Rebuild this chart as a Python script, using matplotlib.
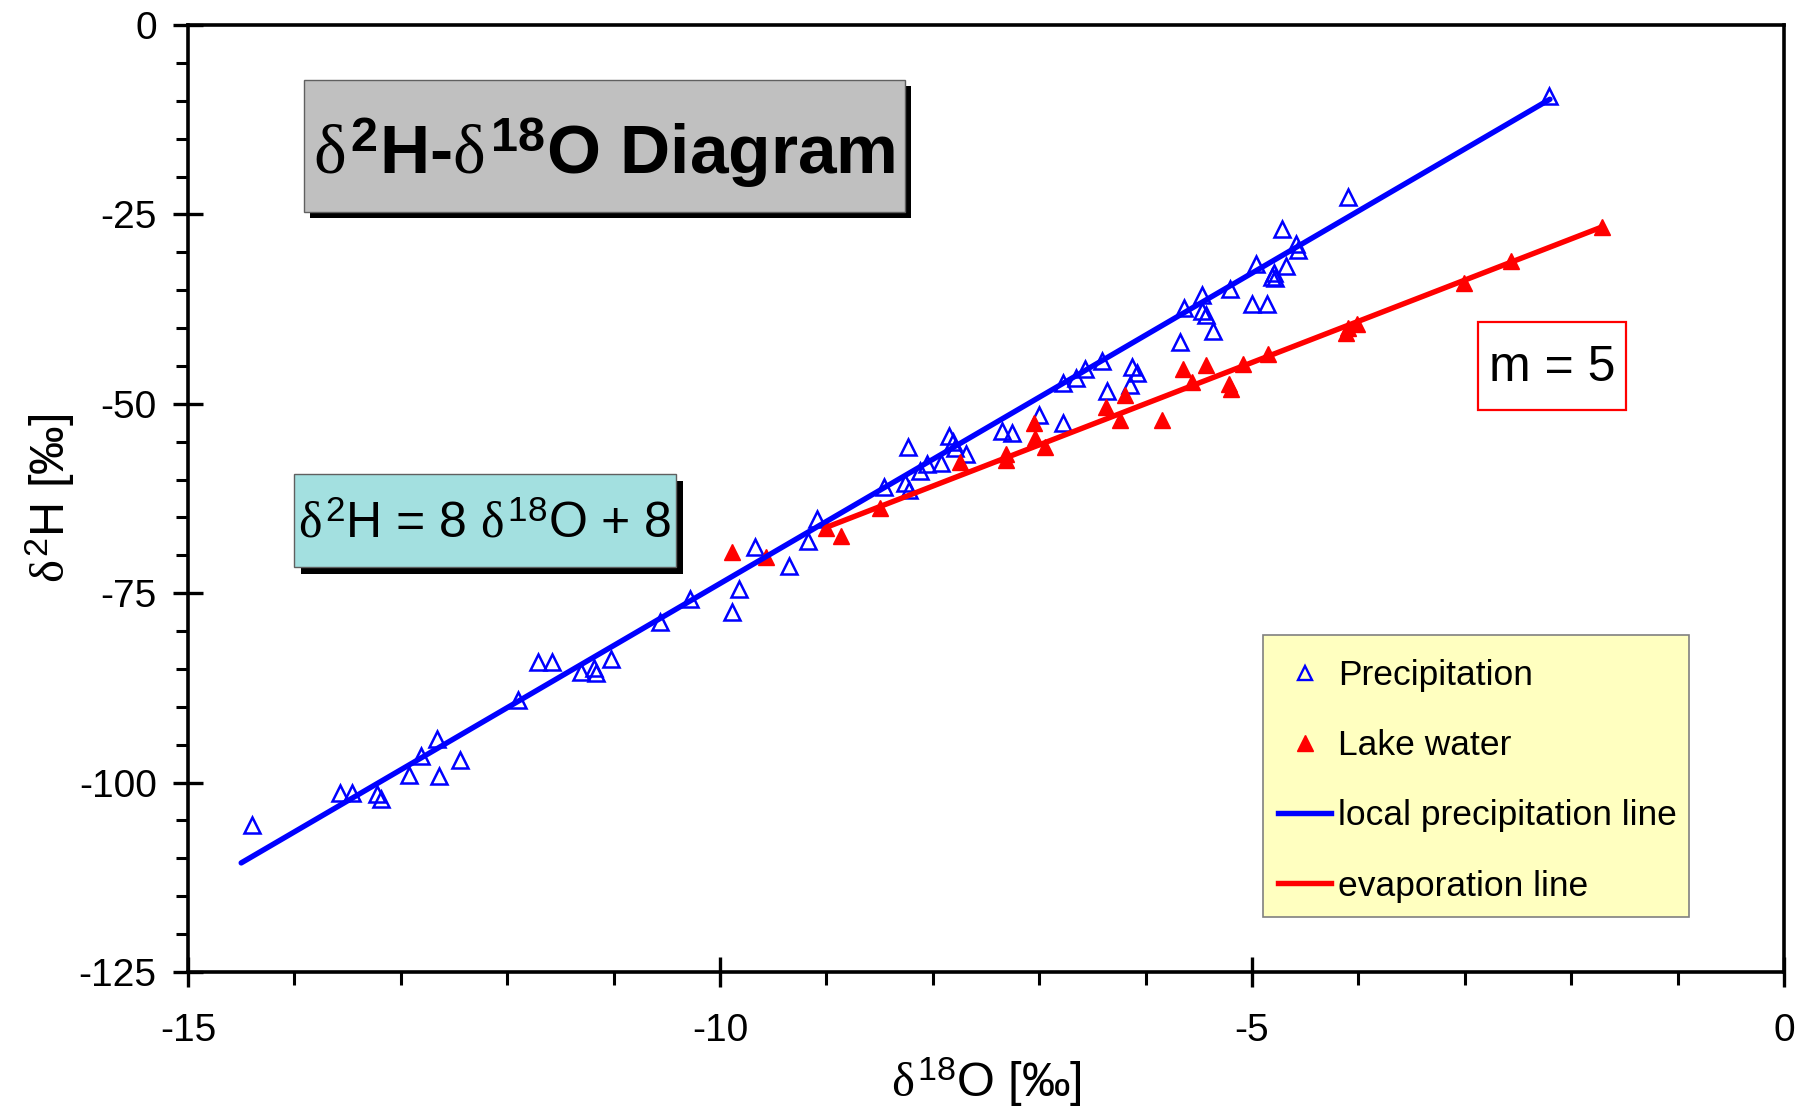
import matplotlib
matplotlib.use('Agg')
import matplotlib.pyplot as plt
from matplotlib.patches import Rectangle
from matplotlib.lines import Line2D
from matplotlib.ticker import MultipleLocator

plt.rcParams['font.family'] = ['Liberation Sans', 'DejaVu Sans']
plt.rcParams['mathtext.fontset'] = 'custom'
plt.rcParams['mathtext.rm'] = 'Liberation Sans'
plt.rcParams['mathtext.bf'] = 'Liberation Sans:bold'
plt.rcParams['mathtext.it'] = 'Liberation Serif'
plt.rcParams['axes.unicode_minus'] = False

# ---------------- data ----------------
precip_d18O = [-14.40, -13.57, -13.46, -13.22, -13.19, -12.92, -12.81, -12.66, -12.64, -12.44,
               -11.90, -11.71, -11.58, -11.31, -11.18, -11.17, -11.02, -10.56, -10.28, -9.89,
               -9.82, -9.67, -9.35, -9.17, -9.09, -8.46, -8.26, -8.23, -8.22, -8.12,
               -8.05, -7.92, -7.85, -7.81, -7.79, -7.69, -7.35, -7.26, -7.00, -6.78,
               -6.78, -6.65, -6.57, -6.41, -6.36, -6.15, -6.13, -6.08, -5.68, -5.64,
               -5.47, -5.47, -5.43, -5.37, -5.21, -5.00, -4.96, -4.86, -4.81, -4.79,
               -4.78, -4.72, -4.68, -4.59, -4.57, -4.10, -2.21]
precip_d2H = [-105.6, -101.4, -101.4, -101.5, -102.1, -99.0, -96.5, -94.3, -99.1, -97.0,
              -89.1, -84.1, -84.1, -85.4, -84.9, -85.5, -83.7, -78.8, -75.8, -77.5,
              -74.5, -68.9, -71.4, -68.1, -65.2, -61.0, -60.5, -55.7, -61.4, -58.9,
              -58.0, -57.8, -54.3, -55.1, -55.8, -56.6, -53.6, -53.9, -51.5, -52.5,
              -47.2, -46.6, -45.4, -44.3, -48.3, -47.5, -45.1, -45.9, -41.9, -37.4,
              -35.7, -37.8, -38.3, -40.4, -34.8, -36.8, -31.6, -36.8, -33.3, -32.8,
              -33.4, -26.9, -31.8, -28.9, -29.7, -22.7, -9.4]

lake_d18O = [-9.89, -9.57, -9.00, -8.86, -8.50, -7.74, -7.31, -7.31, -7.05, -7.04,
             -6.95, -6.37, -6.24, -6.19, -5.85, -5.65, -5.56, -5.43, -5.22, -5.20,
             -5.08, -4.85, -4.12, -4.10, -4.01, -3.01, -2.57, -1.71]
lake_d2H = [-69.6, -70.2, -66.4, -67.5, -63.7, -57.7, -56.6, -57.4, -52.5, -54.5,
            -55.7, -50.4, -52.2, -48.9, -52.1, -45.4, -47.1, -44.9, -47.4, -48.0,
            -44.8, -43.4, -40.7, -40.0, -39.5, -34.0, -31.2, -26.6]

lmwl_x = [-14.5, -2.2]
lmwl_y = [-110.6, -9.8]
evap_x = [-9.0, -1.7]
evap_y = [-66.3, -26.6]

x_ticks = [-15, -10, -5, 0]
x_ticklabels = ['-15', '-10', '-5', '0']
y_ticks = [-125, -100, -75, -50, -25, 0]
y_ticklabels = ['-125', '-100', '-75', '-50', '-25', '0']

legend_labels = ['Precipitation', 'Lake water', 'local precipitation line', 'evaporation line']

# ---------------- figure ----------------
W, H = 1797, 1107
fig = plt.figure(figsize=(W / 100, H / 100), dpi=100)
fig.patch.set_facecolor('white')
ax = fig.add_axes([188 / W, 1 - 972 / H, (1784 - 188) / W, (972 - 25) / H])


def fx(x):
    return x / W


def fy(y):
    return 1 - y / H


ax.plot(precip_d18O, precip_d2H, ls='none', marker='^', mfc='none', mec='#0000FF',
        ms=11, mew=1.8, zorder=3, clip_on=False)
ax.plot(lake_d18O, lake_d2H, ls='none', marker='^', color='#FF0000', ms=11.5, zorder=3,
        clip_on=False)
ax.plot(lmwl_x, lmwl_y, color='#0000FF', lw=3.9, zorder=4, solid_capstyle='round')
ax.plot(evap_x, evap_y, color='#FF0000', lw=3.9, zorder=4, solid_capstyle='round')

ax.set_xlim(-15, 0)
ax.set_ylim(-125, 0)
ax.set_xticks(x_ticks)
ax.set_xticklabels(x_ticklabels)
ax.set_yticks(y_ticks)
ax.set_yticklabels(y_ticklabels)
ax.xaxis.set_minor_locator(MultipleLocator(1))
ax.yaxis.set_minor_locator(MultipleLocator(5))

for s in ax.spines.values():
    s.set_linewidth(2.6)
    s.set_color('black')

ax.tick_params(which='major', direction='inout', length=21, width=2.4, labelsize=28,
               color='black')
ax.tick_params(which='minor', direction='out', length=9, width=2.2, color='black')
ax.tick_params(axis='x', which='major', pad=19)
ax.tick_params(axis='y', which='major', pad=12)

ax.set_xlabel(r'$\delta^{\mathrm{18}}$O [‰]', fontsize=35, labelpad=5)
ax.set_ylabel(r'$\delta^{\mathrm{2}}$H [‰]', fontsize=35, labelpad=1)

# ---------------- text boxes ----------------
def box(x0, y0, x1, y1, face, edge, lw, shadow=None, z=7):
    if shadow:
        ax.add_patch(Rectangle((fx(x0 + shadow), fy(y1 + shadow)), (x1 - x0) / W, (y1 - y0) / H,
                               transform=fig.transFigure, facecolor='black', edgecolor='none',
                               zorder=z - 1, clip_on=False))
    ax.add_patch(Rectangle((fx(x0), fy(y1)), (x1 - x0) / W, (y1 - y0) / H,
                           transform=fig.transFigure, facecolor=face, edgecolor=edge,
                           linewidth=lw, zorder=z, clip_on=False))


box(304, 80, 905, 212, '#C0C0C0', '#606060', 1.0, shadow=6)
fig.text(fx(604), fy(153),
         r'$\delta^{\mathbf{2}}$' + 'H-' + r'$\delta^{\mathbf{18}}$' + 'O Diagram',
         fontsize=50, fontweight='bold', ha='center', va='center', zorder=8)

box(294, 474, 676, 567, '#A3E0E0', '#606060', 1.0, shadow=7)
fig.text(fx(485), fy(524),
         r'$\delta^{\mathrm{2}}$' + 'H = 8 ' + r'$\delta^{\mathrm{18}}$' + 'O + 8',
         fontsize=36, ha='center', va='center', zorder=8)

box(1478, 322, 1626, 410, 'white', '#FF0000', 1.6)
fig.text(fx(1552), fy(368), 'm = 5', fontsize=36, ha='center', va='center', zorder=8)

# ---------------- legend ----------------
box(1263, 635, 1689, 917, '#FFFFC0', '#808080', 1.2, z=8)
handles = [Line2D([], [], ls='none', marker='^', mfc='none', mec='#0000FF', ms=10, mew=1.7),
           Line2D([], [], ls='none', marker='^', color='#FF0000', ms=11),
           Line2D([], [], color='#0000FF', lw=3.9),
           Line2D([], [], color='#FF0000', lw=3.9)]
leg = ax.legend(handles, legend_labels, loc='upper left',
                bbox_to_anchor=(fx(1278), fy(659)), bbox_transform=fig.transFigure,
                borderaxespad=0, fontsize=25.5, frameon=False,
                borderpad=0, labelspacing=1.05, handlelength=1.5, handletextpad=0.2)
leg.set_zorder(9)

fig.savefig('out.png', dpi=100)
